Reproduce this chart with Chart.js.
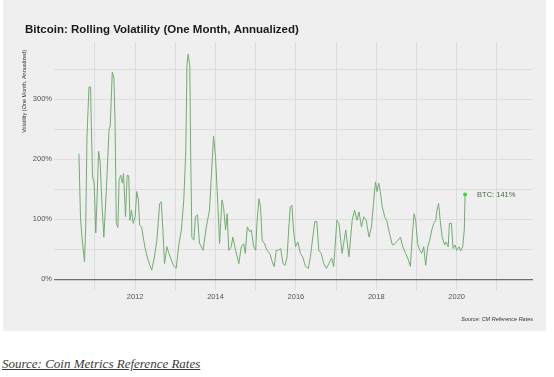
<!DOCTYPE html>
<html>
<head>
<meta charset="utf-8">
<script src="https://cdn.jsdelivr.net/npm/chart.js@4"></script>
<style>
  body { margin: 0; background: #fff; width: 554px; height: 377px; position: relative; overflow: hidden; }
  #panel { position: absolute; left: 3px; top: 0; width: 543px; height: 331px; background: #efefef; }
  #source { position: absolute; left: 2px; top: 356px; font: italic 13px/15px 'Liberation Serif', 'DejaVu Serif', serif; color: #3b3b3b; text-decoration: underline; white-space: nowrap; }
</style>
</head>
<body>
<div id="panel"><canvas id="chart" width="543" height="331"></canvas></div>
<div id="source">Source: Coin Metrics Reference Rates</div>
<script>
// decimal years
const years = [
  2010.60, 2010.64, 2010.69, 2010.74, 2010.77, 2010.80, 2010.85, 2010.89, 2010.91, 2010.94,
  2010.98, 2011.02, 2011.05, 2011.09, 2011.13, 2011.17, 2011.22, 2011.28, 2011.35, 2011.38,
  2011.43, 2011.47, 2011.50, 2011.53, 2011.57, 2011.60, 2011.64, 2011.68, 2011.71, 2011.76,
  2011.80, 2011.84, 2011.87, 2011.91, 2011.95, 2012.00, 2012.04, 2012.08, 2012.11, 2012.16,
  2012.24, 2012.32, 2012.41, 2012.48, 2012.54, 2012.61, 2012.65, 2012.69, 2012.73, 2012.79,
  2012.84, 2012.90, 2012.96, 2013.02, 2013.09, 2013.15, 2013.21, 2013.26, 2013.29, 2013.32,
  2013.36, 2013.38, 2013.41, 2013.46, 2013.50, 2013.55, 2013.60, 2013.69, 2013.77, 2013.85,
  2013.90, 2013.95, 2014.00, 2014.06, 2014.10, 2014.16, 2014.20, 2014.25, 2014.29, 2014.33,
  2014.39, 2014.43, 2014.50, 2014.58, 2014.64, 2014.70, 2014.74, 2014.79, 2014.85, 2014.89,
  2014.95, 2015.00, 2015.03, 2015.08, 2015.12, 2015.16, 2015.22, 2015.28, 2015.35, 2015.41,
  2015.46, 2015.51, 2015.56, 2015.62, 2015.68, 2015.73, 2015.78, 2015.83, 2015.86, 2015.90,
  2015.94, 2015.99, 2016.05, 2016.11, 2016.17, 2016.24, 2016.31, 2016.36, 2016.42, 2016.47,
  2016.52, 2016.57, 2016.63, 2016.69, 2016.76, 2016.82, 2016.89, 2016.94, 2017.02, 2017.07,
  2017.15, 2017.24, 2017.32, 2017.40, 2017.46, 2017.52, 2017.57, 2017.63, 2017.69, 2017.75,
  2017.82, 2017.88, 2017.93, 2017.98, 2018.02, 2018.06, 2018.10, 2018.15, 2018.21, 2018.26,
  2018.33, 2018.40, 2018.46, 2018.54, 2018.60, 2018.66, 2018.73, 2018.80, 2018.85, 2018.90,
  2018.94, 2018.98, 2019.03, 2019.08, 2019.13, 2019.18, 2019.23, 2019.28, 2019.33, 2019.38,
  2019.43, 2019.48, 2019.51, 2019.55, 2019.59, 2019.64, 2019.70, 2019.74, 2019.79, 2019.82,
  2019.87, 2019.91, 2019.96, 2020.00, 2020.06, 2020.10, 2020.15, 2020.19, 2020.21
];

// one-month volatility, annualized, in %
const volatility = [
  209, 100, 60, 29, 90, 235, 320, 320, 254, 170,
  160, 77, 132, 213, 194, 130, 70, 145, 250, 255,
  345, 335, 260, 93, 86, 165, 173, 160, 176, 104,
  173, 172, 98, 115, 93, 104, 146, 132, 90, 87,
  54, 32, 15, 37, 65, 126, 129, 82, 26, 54,
  43, 32, 22, 18, 59, 82, 132, 215, 359, 375,
  354, 215, 70, 65, 104, 107, 60, 48, 87, 115,
  176, 238, 204, 120, 59, 132, 120, 82, 109, 48,
  54, 70, 48, 26, 54, 59, 43, 87, 79, 82,
  54, 48, 93, 134, 120, 65, 59, 48, 43, 29,
  21, 48, 48, 51, 26, 23, 37, 93, 120, 123,
  82, 54, 62, 43, 37, 21, 18, 37, 70, 96,
  96, 48, 43, 26, 18, 26, 35, 21, 98, 93,
  43, 82, 37, 98, 115, 98, 112, 87, 104, 98,
  70, 87, 126, 162, 146, 160, 146, 120, 104, 98,
  76, 57, 59, 65, 70, 54, 43, 32, 21, 76,
  109, 98, 59, 48, 43, 54, 23, 54, 65, 82,
  93, 98, 115, 126, 98, 70, 57, 62, 54, 93,
  93, 51, 57, 48, 54, 47, 54, 82, 141
];

const xTicks = [2011, 2012, 2013, 2014, 2015, 2016, 2017, 2018, 2019, 2020, 2021];
const yTicks = [0, 50, 100, 150, 200, 250, 300, 350];

const chartTitle = 'Bitcoin: Rolling Volatility (One Month, Annualized)';
const yTitle = 'Volatility (One Month, Annualized)';
const caption = 'Source: CM Reference Rates';
const latestLabel = 'BTC: 141%';

const sans = "'Liberation Sans', Arial, Helvetica, sans-serif";

// y axis title sits at the top of the axis, not centred
const yTitlePlugin = {
  id: 'yTitle',
  afterDraw(chart) {
    const c = chart.ctx;
    c.save();
    c.translate(21.5, 50);
    c.rotate(-Math.PI / 2);
    c.textAlign = 'right';
    c.textBaseline = 'middle';
    c.fillStyle = '#333';
    c.font = '5.5px ' + sans;
    c.fillText(yTitle, 0, 0);
    c.restore();
  }
};

// text next to the last point
const endLabelPlugin = {
  id: 'endLabel',
  afterDatasetsDraw(chart) {
    const meta = chart.getDatasetMeta(0);
    const pt = meta.data[meta.data.length - 1];
    const c = chart.ctx;
    c.save();
    c.font = '7.5px ' + sans;
    c.fillStyle = '#4a6a4a';
    c.textBaseline = 'middle';
    c.fillText(latestLabel, pt.x + 12, pt.y);
    c.restore();
  }
};

const ctx = document.getElementById('chart').getContext('2d');
new Chart(ctx, {
  type: 'line',
  data: {
    datasets: [{
      data: years.map((x, i) => ({ x: x, y: volatility[i] })),
      borderColor: '#72ab72',
      borderWidth: 1,
      tension: 0,
      pointRadius: c => c.dataIndex === years.length - 1 ? 2 : 0,
      pointBackgroundColor: '#33dd33',
      pointBorderWidth: 0
    }]
  },
  options: {
    responsive: false,
    animation: false,
    layout: { padding: { left: 22, right: 13, top: 0, bottom: 0 } },
    plugins: {
      legend: { display: false },
      tooltip: { enabled: false },
      title: {
        display: true,
        text: chartTitle,
        align: 'start',
        color: '#1a1a1a',
        font: { family: sans, size: 11.5, weight: 'bold' },
        padding: { top: 23.1, bottom: 5.1 }
      },
      subtitle: {
        display: true,
        position: 'bottom',
        align: 'end',
        text: caption,
        color: '#333',
        font: { family: sans, size: 5.5, style: 'italic' },
        padding: { top: 5.7, bottom: 8.7 }
      }
    },
    scales: {
      x: {
        type: 'linear',
        min: 2009.98,
        max: 2021.9,
        afterBuildTicks: s => { s.ticks = xTicks.map(v => ({ value: v })); },
        afterFit: s => { s.height = 20; },
        grid: { color: '#dcdcdc', lineWidth: 1, drawTicks: false },
        border: { display: false },
        ticks: {
          padding: 2,
          color: '#555',
          autoSkip: false,
          maxRotation: 0,
          font: { family: sans, size: 7.5 },
          callback: v => v % 2 === 0 ? String(v) : ''
        }
      },
      y: {
        min: -18,
        max: 395,
        afterBuildTicks: s => { s.ticks = yTicks.map(v => ({ value: v })); },
        afterFit: s => { s.width = 29; },
        grid: {
          color: c => c.tick && c.tick.value === 0 ? '#6e6e6e' : '#dcdcdc',
          lineWidth: c => c.tick && c.tick.value === 0 ? 1.3 : 1,
          drawTicks: false
        },
        border: { display: false },
        ticks: {
          padding: 2,
          color: '#555',
          font: { family: sans, size: 7.5 },
          callback: v => v % 100 === 0 ? v + '%' : ''
        }
      }
    }
  },
  plugins: [yTitlePlugin, endLabelPlugin]
});
</script>
</body>
</html>
